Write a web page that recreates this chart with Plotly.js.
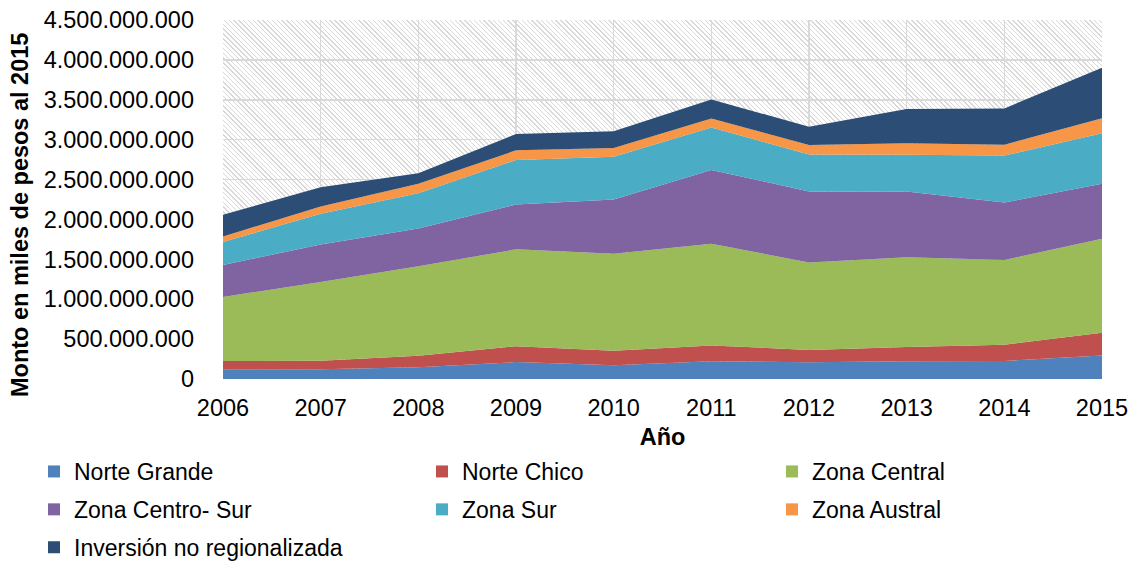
<!DOCTYPE html>
<html>
<head>
<meta charset="utf-8">
<script src="https://cdn.plot.ly/plotly-3.0.1.min.js"></script>
<style>
  html, body { margin: 0; padding: 0; background: #fff; }
  #wrap { position: relative; width: 1136px; height: 563px; }
  #hatch {
    position: absolute; left: 223px; top: 20px; width: 879px; height: 359px;
    background: repeating-linear-gradient(45deg, #ffffff 0px, #ffffff 2.4px, #d8d8d8 2.4px, #d8d8d8 3.4px);
  }
  #chart { position: absolute; left: 0; top: 0; width: 1136px; height: 563px; }
</style>
</head>
<body>
<div id="wrap">
  <div id="hatch"></div>
  <div id="chart"></div>
</div>
<script>
// Years (x categories)
const years = [2006, 2007, 2008, 2009, 2010, 2011, 2012, 2013, 2014, 2015];

// Monto en miles de pesos al 2015, por zona
const norteGrande   = [121e6, 122e6, 146e6, 212e6, 171e6, 221e6, 210e6, 221e6, 225e6, 296e6];
const norteChico    = [104e6, 107e6, 145e6, 200e6, 183e6, 200e6, 154e6, 179e6, 204e6, 283e6];
const zonaCentral   = [804e6, 987e6, 1121e6, 1213e6, 1217e6, 1275e6, 1096e6, 1125e6, 1063e6, 1179e6];
const zonaCentroSur = [400e6, 471e6, 475e6, 562e6, 679e6, 925e6, 890e6, 825e6, 720e6, 688e6];
const zonaSur       = [288e6, 384e6, 442e6, 559e6, 537e6, 533e6, 465e6, 462e6, 588e6, 633e6];
const zonaAustral   = [70e6, 91e6, 117e6, 120e6, 109e6, 110e6, 118e6, 142e6, 137e6, 188e6];
const inversionNR   = [271e6, 242e6, 133e6, 204e6, 208e6, 240e6, 229e6, 429e6, 455e6, 633e6];

const seriesNames = ['Norte Grande', 'Norte Chico', 'Zona Central', 'Zona Centro- Sur',
                     'Zona Sur', 'Zona Austral', 'Inversión no regionalizada'];
const seriesValues = [norteGrande, norteChico, zonaCentral, zonaCentroSur, zonaSur, zonaAustral, inversionNR];
const seriesColors = ['#4F81BD', '#C0504D', '#9BBB59', '#8064A2', '#4BACC6', '#F79646', '#2C4D75'];
// which legend column each series goes into
const legendColumn = ['legend', 'legend2', 'legend3', 'legend', 'legend2', 'legend3', 'legend'];

const yTitle = 'Monto en miles de pesos al 2015';
const xTitle = 'Año';

const FONT = 'Liberation Sans, Arial, sans-serif';
const FS = 23.5;

const traces = [];
seriesValues.forEach((vals, i) => {
  traces.push({
    type: 'scatter', x: years, y: vals, name: seriesNames[i],
    stackgroup: 'one', mode: 'none', fillcolor: seriesColors[i],
    showlegend: false, hoverinfo: 'x+y+name'
  });
});
// legend-only entries (square swatches)
seriesValues.forEach((vals, i) => {
  traces.push({
    type: 'bar', x: [null], y: [null], name: seriesNames[i],
    marker: { color: seriesColors[i] }, legend: legendColumn[i],
    legendgroup: 'g' + i, showlegend: true, hoverinfo: 'skip'
  });
});

// plot area spans 223..1102 px horizontally
function legendAt(xpx) {
  return {
    xref: 'paper', yref: 'container', x: (xpx - 223) / 879, y: 1 - 450 / 563,
    xanchor: 'left', yanchor: 'top', orientation: 'v',
    bgcolor: 'rgba(0,0,0,0)', borderwidth: 0,
    font: { family: FONT, size: 23, color: '#000' },
    tracegroupgap: 5, itemwidth: 30, traceorder: 'grouped'
  };
}

const layout = {
  width: 1136, height: 563,
  paper_bgcolor: 'rgba(0,0,0,0)', plot_bgcolor: 'rgba(0,0,0,0)',
  separators: ',.',
  margin: { l: 223, r: 34, t: 20, b: 184, pad: 0 },
  font: { family: FONT, size: FS, color: '#000' },
  xaxis: {
    type: 'linear', range: [2006, 2015], dtick: 1, tick0: 2006,
    showgrid: true, gridcolor: '#d9d9d9', gridwidth: 1.5,
    zeroline: false, showline: false, ticks: '', ticklabelstandoff: 12,
    tickfont: { family: FONT, size: FS, color: '#000' },
    title: { text: xTitle, font: { family: FONT, size: FS, color: '#000', weight: 'bold' }, standoff: 17 },
    automargin: false
  },
  yaxis: {
    range: [0, 4.5e9], dtick: 5e8, tick0: 0, tickformat: ',d',
    showgrid: true, gridcolor: '#d9d9d9', gridwidth: 1.5,
    zeroline: false, showline: false, ticks: '', ticklabelstandoff: 28,
    tickfont: { family: FONT, size: FS, color: '#000' },
    automargin: false
  },
  annotations: [{
    text: yTitle, textangle: -90, showarrow: false,
    xref: 'paper', yref: 'paper', xanchor: 'center', yanchor: 'middle',
    x: (20 - 223) / 879, y: (379 - 215) / 359,
    font: { family: FONT, size: FS, color: '#000', weight: 'bold' }
  }],
  legend: legendAt(34),
  legend2: legendAt(422),
  legend3: legendAt(772),
  showlegend: true,
  hovermode: 'closest'
};

Plotly.newPlot('chart', traces, layout, { displayModeBar: false, staticPlot: true });
</script>
</body>
</html>
